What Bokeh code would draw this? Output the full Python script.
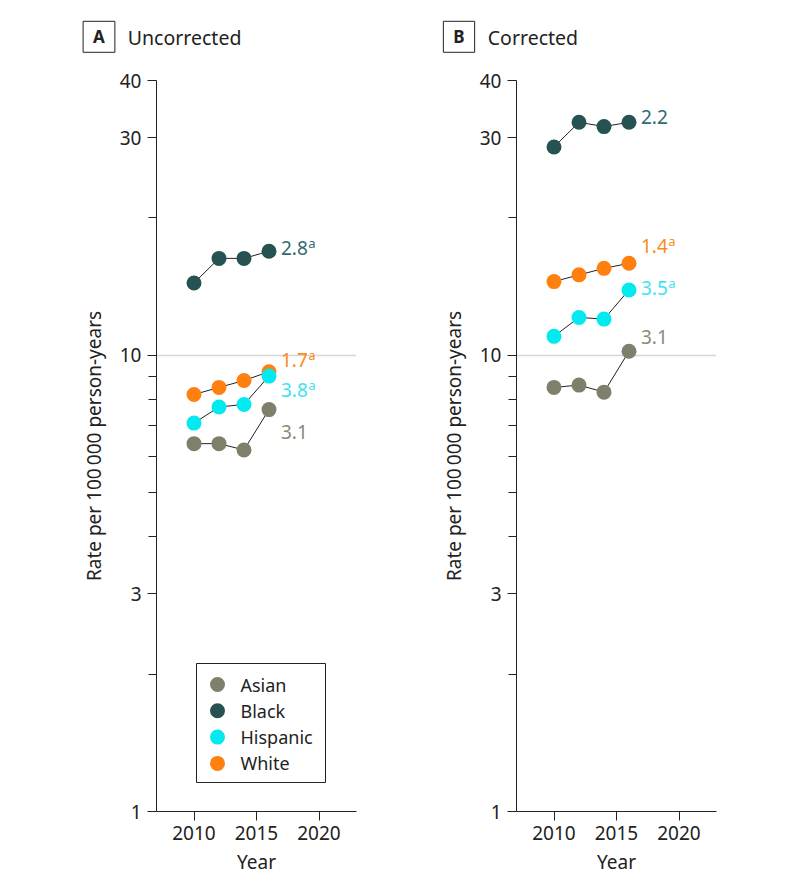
from bokeh.plotting import figure
from bokeh.models import (Range1d, FixedTicker, PrintfTickFormatter, Label, ColumnDataSource,
                          LinearScale)
from bokeh.layouts import row, column
from bokeh.embed import file_html
from bokeh.resources import INLINE
from bokeh.core.properties import value

# ---------------- data ----------------
years = [2010, 2012, 2014, 2016]
groups = ["Asian", "Black", "Hispanic", "White"]

uncorrected_asian = [6.4, 6.4, 6.2, 7.6]
uncorrected_black = [14.4, 16.3, 16.3, 16.9]
uncorrected_hispanic = [7.1, 7.7, 7.8, 9.0]
uncorrected_white = [8.2, 8.5, 8.8, 9.2]
uncorrected_labels = ["3.1", "2.8", "3.8", "1.7"]
uncorrected_sups = ["", "a", "a", "a"]

corrected_asian = [8.5, 8.6, 8.3, 10.2]
corrected_black = [28.6, 32.4, 31.7, 32.4]
corrected_hispanic = [11.0, 12.1, 12.0, 13.9]
corrected_white = [14.5, 15.0, 15.5, 15.9]
corrected_labels = ["3.1", "2.2", "3.5", "1.4"]
corrected_sups = ["", "", "a", "a"]

panel_letters = ["A", "B"]
panel_titles = ["Uncorrected", "Corrected"]

y_ticks = [1, 3, 10, 30, 40]
y_minor_ticks = [2, 4, 5, 6, 7, 8, 9, 20]
x_ticks = [2010, 2015, 2020]

# ---------------- styles ----------------
FONT = "Noto Sans"
INK = "#222222"
marker_colors = {"Asian": "#7f7f6b", "Black": "#265351", "Hispanic": "#00eaf0", "White": "#ff7f0f"}
text_colors = {"Asian": "#8a8a78", "Black": "#2e6a72", "Hispanic": "#3fe2f0", "White": "#f98b22"}
draw_order = ["Black", "Asian", "White", "Hispanic"]
TITLE_H = 60
WIDTHS = [367, 360]
LEFTS = [156, 149]
FRAME_W = 200
FRAME_H = 731


def make_titles():
    total = sum(WIDTHS)
    t = figure(width=total, height=TITLE_H, x_range=Range1d(0, total), y_range=Range1d(TITLE_H, 0),
               x_axis_location=None, y_axis_location=None, min_border=0,
               output_backend="svg", toolbar_location=None)
    t.outline_line_color = None
    t.xgrid.visible = False
    t.ygrid.visible = False
    offset = 0
    for letter, title, w, left in zip(panel_letters, panel_titles, WIDTHS, LEFTS):
        ax = offset + left  # y-axis position of the panel below
        t.add_layout(Label(x=ax - 57.5, y=36.3, text=letter,
                           text_font=FONT, text_font_size="17px", text_font_style="bold",
                           text_color=INK, text_align="center", text_baseline="middle",
                           border_line_color=INK, border_line_width=1,
                           background_fill_color="white", padding=(10, 4)))
        t.add_layout(Label(x=ax - 28.7, y=37, text=title,
                           text_font=FONT, text_font_size="19.5px", text_color=INK,
                           text_align="left", text_baseline="middle"))
        offset += w
    return t


def make_panel(series, labels, sups, dys, legend, width, left):
    p = figure(width=width, height=824, y_axis_type="log",
               x_range=Range1d(2007, 2023), y_range=Range1d(1, 40),
               output_backend="svg", toolbar_location=None,
               min_border_left=left, min_border_right=width - left - FRAME_W,
               min_border_top=80 - TITLE_H, min_border_bottom=73)
    p.outline_line_color = None

    # axes
    p.yaxis.ticker = FixedTicker(ticks=y_ticks, minor_ticks=y_minor_ticks)
    p.yaxis.formatter = PrintfTickFormatter(format="%d")
    p.xaxis.ticker = FixedTicker(ticks=x_ticks, minor_ticks=[])
    for ax in (p.xaxis[0], p.yaxis[0]):
        ax.axis_line_color = INK
        ax.major_tick_line_color = INK
        ax.minor_tick_line_color = INK
        ax.major_tick_out = 9
        ax.major_tick_in = 0
        ax.minor_tick_out = 8
        ax.minor_tick_in = 0
        ax.major_label_text_font = FONT
        ax.major_label_text_font_size = "19px"
        ax.major_label_text_color = INK
        ax.axis_label_text_font = FONT
        ax.axis_label_text_font_size = "19px"
        ax.axis_label_text_font_style = "normal"
        ax.axis_label_text_color = INK
    p.xaxis.axis_label = "Year"
    p.yaxis.axis_label = "Rate per 100\u2009000 person-years"
    p.yaxis.major_label_standoff = 6
    p.xaxis.major_label_standoff = 5
    p.yaxis.axis_label_standoff = 10
    p.xaxis.axis_label_standoff = 6

    # grid
    p.xgrid.visible = False
    p.ygrid.ticker = FixedTicker(ticks=[10, 40], minor_ticks=[])
    p.ygrid.grid_line_color = "#d6d6d6"
    p.ygrid.grid_line_width = 1.5

    # series
    for g in draw_order:
        src = ColumnDataSource(dict(x=years, y=series[g]))
        p.line("x", "y", source=src, line_color=INK, line_width=1)
    for g in draw_order:
        src = ColumnDataSource(dict(x=years, y=series[g]))
        p.scatter("x", "y", source=src, size=15, fill_color=marker_colors[g], line_color=None)

    # end labels
    for i, g in enumerate(groups):
        vals = series[g]
        p.text(x=[years[-1]], y=[vals[-1]], text=[labels[i]], x_offset=12, y_offset=dys[i],
               text_font=value(FONT), text_font_size="19px", text_color=text_colors[g],
               text_align="left", text_baseline="middle")
        if sups[i]:
            w = 10.9 * len(labels[i].replace(".", "")) + 5.2
            p.text(x=[years[-1]], y=[vals[-1]], text=[sups[i]], x_offset=12 + w + 0.3,
                   y_offset=dys[i] - 5,
                   text_font=value(FONT), text_font_size="13px", text_color=text_colors[g],
                   text_align="left", text_baseline="alphabetic")

    if legend:
        # legend drawn in frame-pixel coordinates (y downward from frame top)
        p.extra_x_ranges = {"px": Range1d(0, FRAME_W)}
        p.extra_y_ranges = {"px": Range1d(FRAME_H, 0)}
        p.extra_x_scales = {"px": LinearScale()}
        p.extra_y_scales = {"px": LinearScale()}
        p.quad(left=[40], right=[169], top=[583], bottom=[702], x_range_name="px",
               y_range_name="px", fill_color="white", line_color=INK, line_width=1)
        ly = [604 + 26.3 * k for k in range(len(groups))]
        p.scatter(x=[61] * len(groups), y=ly, size=15,
                  fill_color=[marker_colors[g] for g in groups], line_color=None,
                  x_range_name="px", y_range_name="px")
        p.text(x=[84] * len(groups), y=ly, text=groups, x_range_name="px", y_range_name="px",
               text_font=value(FONT), text_font_size="18px", text_color=INK,
               text_align="left", text_baseline="middle")
    return p


titles = make_titles()
pA = make_panel({"Asian": uncorrected_asian, "Black": uncorrected_black,
                 "Hispanic": uncorrected_hispanic, "White": uncorrected_white},
                uncorrected_labels, uncorrected_sups, [22, -3, 14, -12], True, WIDTHS[0], LEFTS[0])
pB = make_panel({"Asian": corrected_asian, "Black": corrected_black,
                 "Hispanic": corrected_hispanic, "White": corrected_white},
                corrected_labels, corrected_sups, [-14, -5, -2, -17], False, WIDTHS[1], LEFTS[1])

layout = column(titles, row(pA, pB))
open("out.html", "w").write(file_html(layout, INLINE))
